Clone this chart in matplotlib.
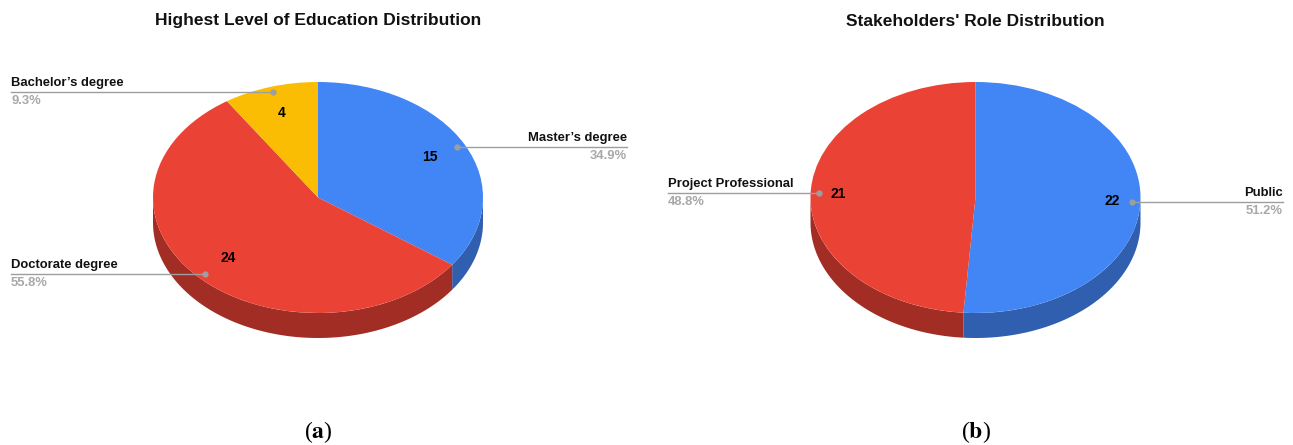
import numpy as np
import matplotlib.pyplot as plt
from matplotlib.patches import Polygon
from matplotlib.transforms import Affine2D

# survey counts
edu_names = ["Master\u2019s degree", "Doctorate degree", "Bachelor\u2019s degree"]
edu_counts = [15, 24, 4]
role_names = ["Public", "Project Professional"]
role_counts = [22, 21]

BLUE, RED, YELLOW = '#4285f4', '#ea4335', '#fbbc04'
BLUE_SIDE, RED_SIDE, YELLOW_SIDE = '#2f5fae', '#a22d24', '#b48603'
GREY = '#9e9e9e'

W, H = 1293, 445
RX, RY, DEPTH = 165, 115.5, 25

plt.rcParams['font.family'] = 'Liberation Sans'
plt.rcParams['mathtext.fontset'] = 'stix'

fig = plt.figure(figsize=(W / 100, H / 100), dpi=100)
ax = fig.add_axes([0, 0, 1, 1])


def draw_pie(cx, cy, counts, names, colors, sides, title, tag,
             x_left, x_right, value_r):
    y0 = H - cy
    ellipse = Affine2D().scale(RX, RY).translate(cx, y0) + ax.transData
    wedges, _ = ax.pie(counts, colors=colors, startangle=90,
                       counterclock=False, radius=1, center=(0, 0))
    total = sum(counts)
    for w, name, n, side in zip(wedges, names, counts, sides):
        w.set_transform(ellipse)
        w.set_zorder(3)
        a, b = w.theta1, w.theta2
        # front wall: only the lower half of the rim shows
        for k in (-1, 0, 1):
            lo, hi = max(a, -180 + 360 * k), min(b, 360 * k)
            if hi <= lo:
                continue
            t = np.radians(np.linspace(lo, hi, 120))
            xs = cx + RX * np.cos(t)
            ys = y0 + RY * np.sin(t)
            pts = np.concatenate([np.c_[xs, ys], np.c_[xs, ys - DEPTH][::-1]])
            ax.add_patch(Polygon(pts, closed=True, facecolor=side,
                                 edgecolor='none', zorder=2))

        mid = np.radians((a + b) / 2)
        c, s = np.cos(mid), np.sin(mid)
        # value inside the slice
        ax.text(cx + value_r * RX * c, y0 + value_r * RY * s, str(n),
                ha='center', va='center', fontsize=10, fontweight='bold',
                color='black', zorder=5)
        # leader line and outside label
        px, py = cx + 0.95 * RX * c, y0 + 0.95 * RY * s
        if c >= 0:
            xt, ha = x_right, 'right'
        else:
            xt, ha = x_left, 'left'
        ax.plot([px, xt], [py, py], color=GREY, lw=1, zorder=4)
        ax.plot(px, py, 'o', ms=3.5, color=GREY, zorder=5)
        ax.text(xt, py + 3, name, ha=ha, va='bottom', fontsize=9.4,
                fontweight='bold', color='#111111')
        ax.text(xt, py - 3, '%.1f%%' % (100 * n / total), ha=ha, va='top',
                fontsize=9.4, fontweight='bold', color='#a8a8a8')

    ax.text(cx, H - 21, title, ha='center', va='center', fontsize=12.5,
            fontweight='bold', color='#111111')
    ax.text(cx, H - 432, '($\\mathbf{%s}$)' % tag, ha='center', va='center',
            fontsize=17, family='Liberation Serif')


draw_pie(318, 197.5, edu_counts, edu_names, [BLUE, RED, YELLOW],
         [BLUE_SIDE, RED_SIDE, YELLOW_SIDE],
         'Highest Level of Education Distribution', 'a', 11, 627, 0.76)
draw_pie(975.5, 197.5, role_counts, role_names, [BLUE, RED],
         [BLUE_SIDE, RED_SIDE],
         "Stakeholders' Role Distribution", 'b', 668, 1283, 0.83)

ax.set_xlim(0, W)
ax.set_ylim(0, H)
ax.set_aspect('auto')
ax.axis('off')

fig.savefig('out.png', dpi=100, facecolor='white')
